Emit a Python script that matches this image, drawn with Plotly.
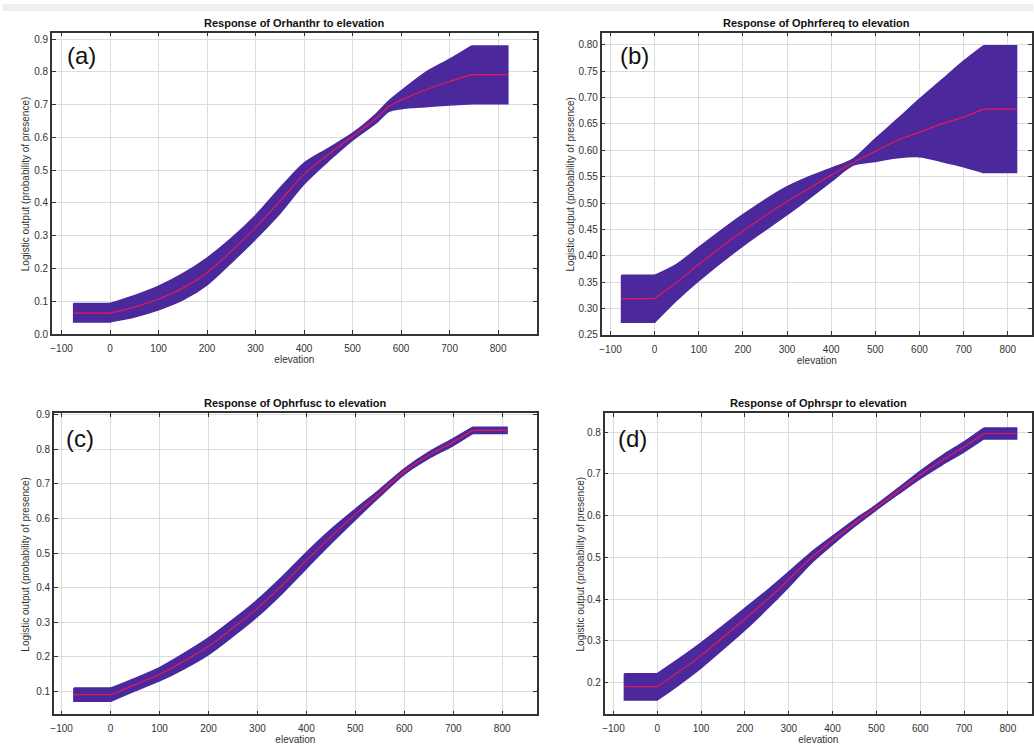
import plotly.graph_objects as go

# ---------------- data ----------------
titles = ["Response of Orhanthr to elevation", "Response of Ophrfereq to elevation",
          "Response of Ophrfusc to elevation", "Response of Ophrspr to elevation"]
panel_labels = ["(a)", "(b)", "(c)", "(d)"]

elev_a = [-75, 0, 50, 100, 150, 200, 250, 300, 350, 400, 450, 500, 550, 575, 600, 650, 700, 745, 820]
mean_a = [0.064, 0.064, 0.082, 0.107, 0.140, 0.187, 0.253, 0.325, 0.405, 0.488, 0.548, 0.603, 0.660, 0.695, 0.714, 0.745, 0.771, 0.792, 0.792]
upper_a = [0.093, 0.093, 0.117, 0.146, 0.184, 0.232, 0.292, 0.362, 0.445, 0.522, 0.567, 0.613, 0.674, 0.712, 0.742, 0.798, 0.839, 0.879, 0.879]
lower_a = [0.037, 0.037, 0.052, 0.074, 0.104, 0.150, 0.218, 0.290, 0.368, 0.458, 0.528, 0.592, 0.646, 0.680, 0.688, 0.694, 0.699, 0.703, 0.703]

elev_b = [-75, 0, 50, 100, 200, 300, 350, 400, 450, 500, 550, 600, 650, 700, 745, 820]
mean_b = [0.319, 0.319, 0.350, 0.384, 0.447, 0.503, 0.528, 0.553, 0.577, 0.598, 0.619, 0.634, 0.650, 0.663, 0.678, 0.678]
upper_b = [0.363, 0.363, 0.384, 0.416, 0.478, 0.531, 0.550, 0.566, 0.584, 0.622, 0.659, 0.697, 0.733, 0.769, 0.798, 0.798]
lower_b = [0.274, 0.274, 0.316, 0.353, 0.419, 0.478, 0.509, 0.541, 0.572, 0.579, 0.586, 0.588, 0.579, 0.569, 0.558, 0.558]

elev_c = [-75, 0, 50, 100, 150, 200, 250, 300, 350, 400, 450, 500, 550, 600, 650, 700, 740, 810]
mean_c = [0.091, 0.091, 0.120, 0.150, 0.188, 0.231, 0.284, 0.341, 0.407, 0.479, 0.548, 0.612, 0.674, 0.736, 0.783, 0.821, 0.855, 0.855]
upper_c = [0.110, 0.110, 0.138, 0.169, 0.210, 0.255, 0.308, 0.365, 0.431, 0.502, 0.568, 0.627, 0.684, 0.744, 0.792, 0.831, 0.864, 0.864]
lower_c = [0.072, 0.072, 0.102, 0.131, 0.166, 0.207, 0.260, 0.317, 0.383, 0.456, 0.528, 0.597, 0.664, 0.728, 0.774, 0.811, 0.846, 0.846]

elev_d = [-75, 0, 50, 100, 150, 200, 250, 300, 350, 400, 450, 500, 550, 600, 650, 700, 745, 820]
mean_d = [0.190, 0.190, 0.226, 0.265, 0.308, 0.352, 0.398, 0.447, 0.498, 0.541, 0.582, 0.620, 0.659, 0.698, 0.733, 0.765, 0.797, 0.797]
upper_d = [0.221, 0.221, 0.257, 0.295, 0.336, 0.378, 0.420, 0.465, 0.511, 0.551, 0.590, 0.626, 0.666, 0.707, 0.744, 0.777, 0.810, 0.810]
lower_d = [0.158, 0.158, 0.195, 0.235, 0.280, 0.326, 0.376, 0.429, 0.485, 0.531, 0.574, 0.614, 0.652, 0.689, 0.722, 0.753, 0.784, 0.784]

x_ranges = [[-120, 880], [-120, 855], [-116, 871], [-120, 855]]
y_ranges = [[0, 0.92], [0.25, 0.823], [0.034, 0.905], [0.1234, 0.846]]
y_dtick = [0.1, 0.05, 0.1, 0.1]
y_fmt = [".1f", ".2f", ".1f", ".1f"]
y_tick0 = [0, 0.25, 0.1, 0.2]

series = [(elev_a, mean_a, upper_a, lower_a), (elev_b, mean_b, upper_b, lower_b),
          (elev_c, mean_c, upper_c, lower_c), (elev_d, mean_d, upper_d, lower_d)]

# ---------------- layout geometry (pixels) ----------------
W, H = 1034, 753
boxes = [(49, 536, 29, 334), (601, 1033, 29, 335), (51, 536, 414, 719), (604, 1033, 414, 719)]
label_pos = [(62, 52), (617, 52), (61, 440), (615, 440)]
ytitle_x = [22, 570, 23, 580]

BAND = "#4b289c"
LINE = "#e8175a"

fig = go.Figure()
layout = dict(width=W, height=H, margin=dict(l=0, r=0, t=0, b=0),
              paper_bgcolor="white", plot_bgcolor="white", showlegend=False,
              font=dict(family="Liberation Sans, Arial, sans-serif", size=10, color="#333"))
annotations = []
shapes = [dict(type="rect", xref="paper", yref="paper", x0=0, x1=1, y0=1 - 7 / H, y1=1,
               fillcolor="#efefef", line=dict(width=0), layer="below")]

for i, (ex, mn, up, lo) in enumerate(series):
    xa = "x" if i == 0 else f"x{i+1}"
    ya = "y" if i == 0 else f"y{i+1}"
    n = len(ex)
    # smooth band in the middle
    ln = dict(color=BAND, width=1.5, shape="spline", smoothing=0.8)
    fig.add_trace(go.Scatter(x=ex[1:n - 1], y=up[1:n - 1], mode="lines", line=ln,
                             xaxis=xa, yaxis=ya, hoverinfo="skip"))
    fig.add_trace(go.Scatter(x=ex[1:n - 1], y=lo[1:n - 1], mode="lines", line=ln,
                             fill="tonexty", fillcolor=BAND, xaxis=xa, yaxis=ya,
                             hoverinfo="skip"))
    # flat plateaus as closed outlined boxes (hide seams)
    for a, b in [(0, 1), (n - 2, n - 1)]:
        fig.add_trace(go.Scatter(x=[ex[a], ex[b], ex[b], ex[a], ex[a]],
                                 y=[up[a], up[b], lo[b], lo[a], up[a]],
                                 mode="lines", fill="toself", fillcolor=BAND,
                                 line=dict(color=BAND, width=1.5),
                                 xaxis=xa, yaxis=ya, hoverinfo="skip"))
    # mean response
    fig.add_trace(go.Scatter(x=ex[0:2], y=mn[0:2], mode="lines",
                             line=dict(color=LINE, width=1.2), xaxis=xa, yaxis=ya))
    fig.add_trace(go.Scatter(x=ex[1:n - 1], y=mn[1:n - 1], mode="lines",
                             line=dict(color=LINE, width=1.2, shape="spline", smoothing=0.8),
                             xaxis=xa, yaxis=ya))
    fig.add_trace(go.Scatter(x=ex[n - 2:n], y=mn[n - 2:n], mode="lines",
                             line=dict(color=LINE, width=1.2), xaxis=xa, yaxis=ya))
    x0, x1, y0, y1 = boxes[i]
    key = "" if i == 0 else str(i + 1)
    layout["xaxis" + key] = dict(
        domain=[x0 / W, x1 / W], range=x_ranges[i], anchor=ya,
        tick0=-100, dtick=100, showgrid=True, gridcolor="#dcdcdc", gridwidth=1,
        zeroline=False, showline=True, linecolor="#333", linewidth=1.5, mirror="ticks",
        ticks="inside", ticklen=4, tickcolor="#333", ticklabelstandoff=4,
        tickfont=dict(size=10, color="#333"),
        title=dict(text="elevation", font=dict(size=10, color="#333"), standoff=3))
    layout["yaxis" + key] = dict(
        domain=[1 - y1 / H, 1 - y0 / H], range=y_ranges[i], anchor=xa,
        tick0=y_tick0[i], dtick=y_dtick[i], tickformat=y_fmt[i],
        showgrid=True, gridcolor="#dcdcdc", gridwidth=1,
        zeroline=False, showline=True, linecolor="#333", linewidth=1.5, mirror="ticks",
        ticks="inside", ticklen=4, tickcolor="#333",
        tickfont=dict(size=10, color="#333"))
    annotations.append(dict(text="Logistic output (probability of presence)", textangle=-90,
                            xref="paper", yref="paper", x=ytitle_x[i] / W,
                            y=1 - ((y0 + y1) / 2) / H, showarrow=False,
                            font=dict(size=10, color="#333"), xanchor="center", yanchor="middle"))
    annotations.append(dict(text="<b>" + titles[i] + "</b>", xref="paper", yref="paper",
                            x=((x0 + x1) / 2) / W, y=1 - (y0 - 10) / H, showarrow=False,
                            font=dict(size=11, color="#111"), xanchor="center", yanchor="middle"))
    lx, ly = label_pos[i]
    annotations.append(dict(text=panel_labels[i], xref="paper", yref="paper",
                            x=lx / W, y=1 - ly / H, showarrow=False,
                            font=dict(size=24, color="#111"), xanchor="left", yanchor="middle"))

layout["annotations"] = annotations
layout["shapes"] = shapes
fig.update_layout(**layout)
fig.write_html("out.html", config={"displayModeBar": False},
               post_script="document.body.style.margin='0px';document.body.style.overflow='hidden';")
